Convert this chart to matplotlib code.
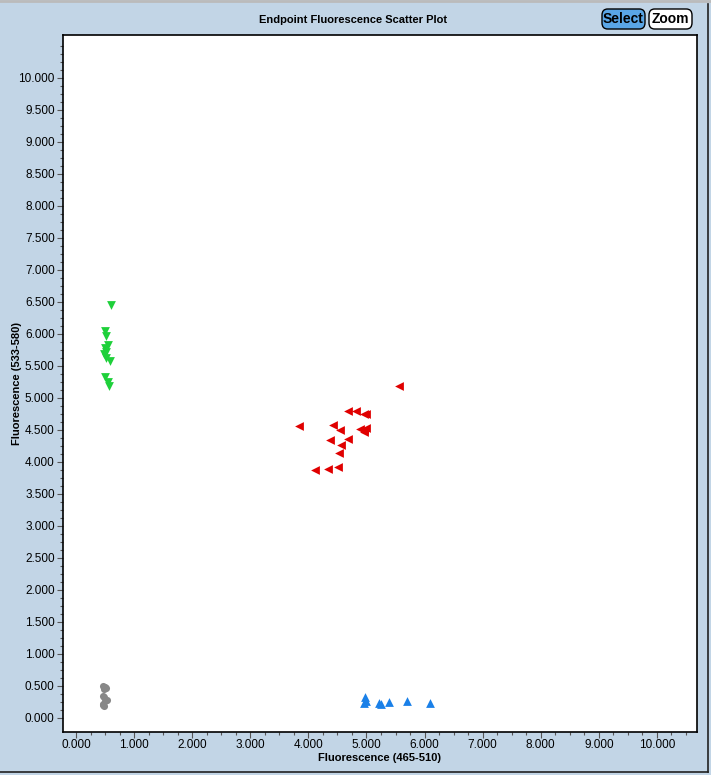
import numpy as np
import matplotlib
matplotlib.use("Agg")
import matplotlib.pyplot as plt
from matplotlib.lines import Line2D
from matplotlib.patches import FancyBboxPatch
from matplotlib.ticker import FixedLocator, FormatStrFormatter

### data (x = 465-510, y = 533-580)
ntc_x = [0.47, 0.50, 0.52, 0.48, 0.46, 0.49, 0.53, 0.50, 0.46, 0.48, 0.47]
ntc_y = [0.50, 0.48, 0.46, 0.45, 0.35, 0.32, 0.28, 0.26, 0.22, 0.18, 0.20]

green_x = [0.60, 0.50, 0.52, 0.55, 0.50, 0.52, 0.48, 0.52, 0.58, 0.50, 0.55, 0.57]
green_y = [6.45, 6.05, 5.97, 5.83, 5.78, 5.72, 5.68, 5.62, 5.57, 5.32, 5.25, 5.19]

red_x = [5.56, 4.69, 4.82, 4.95, 4.99, 3.84, 4.43, 4.54, 4.89, 4.95,
         5.00, 4.95, 4.37, 4.69, 4.57, 4.53, 4.11, 4.33, 4.51]
red_y = [5.19, 4.79, 4.79, 4.75, 4.75, 4.56, 4.58, 4.50, 4.51, 4.50,
         4.53, 4.46, 4.34, 4.36, 4.26, 4.14, 3.875, 3.89, 3.92]

blue_x = [4.97, 4.95, 5.00, 5.22, 5.25, 5.39, 5.69, 6.10]
blue_y = [0.33, 0.23, 0.26, 0.23, 0.21, 0.245, 0.27, 0.23]

xticks = np.arange(0, 10.5, 1.0)
yticks = np.arange(0, 10.25, 0.5)

bg = '#C2D5E6'
plt.rcParams.update({"font.family": ["Liberation Sans", "DejaVu Sans"]})

fig = plt.figure(figsize=(7.11, 7.75), dpi=100, facecolor=bg)
ax = fig.add_axes([63/711, 1-732/775, 634/711, 697/775])
ax.set_facecolor('white')

ax.scatter(ntc_x, ntc_y, marker='o', s=26, color='#888888', linewidths=0)
ax.scatter(green_x, green_y, marker='v', s=40, color='#1ED03A', linewidths=0)
ax.scatter(red_x, red_y, marker='<', s=40, color='#E00000', linewidths=0)
ax.scatter(blue_x, blue_y, marker='^', s=40, color='#1A80E8', linewidths=0)

ax.set_xlim(-0.224, 10.69)
ax.set_ylim(-0.22, 10.67)
ax.xaxis.set_major_locator(FixedLocator(xticks))
ax.xaxis.set_minor_locator(FixedLocator(np.arange(0, 10.6, 0.25)))
ax.yaxis.set_major_locator(FixedLocator(yticks))
ax.yaxis.set_minor_locator(FixedLocator(np.arange(0, 10.6, 0.125)))
ax.xaxis.set_major_formatter(FormatStrFormatter('%.3f'))
ax.yaxis.set_major_formatter(FormatStrFormatter('%.3f'))
ax.tick_params(which='major', length=4, width=0.8, color='#555555',
               labelsize=8.5, pad=2)
ax.tick_params(axis='x', which='major', pad=1)
ax.tick_params(which='minor', length=2, width=0.8, color='#555555')
for s in ax.spines.values():
    s.set_linewidth(1.2)
    s.set_color('black')

ax.set_xlabel('Fluorescence (465-510)', fontsize=8, fontweight='bold')
ax.set_ylabel('Fluorescence (533-580)', fontsize=8, fontweight='bold')
ax.xaxis.set_label_coords(0.5, -0.037)
ax.xaxis.label.set_va('center')
ax.yaxis.set_label_coords(-0.073, 0.5)
ax.yaxis.label.set_va('center')

fig.text(353/711, 1-20/775, 'Endpoint Fluorescence Scatter Plot',
         ha='center', va='center', fontsize=8, fontweight='bold')

### buttons
for label, x0, x1, fc in [('Select', 602, 645, '#5AA6E6'), ('Zoom', 649, 692, 'white')]:
    box = FancyBboxPatch((x0/711, 1-29/775), (x1-x0)/711, 20/775,
                         boxstyle='round,pad=0,rounding_size=0.008',
                         transform=fig.transFigure, facecolor=fc,
                         edgecolor='black', linewidth=1)
    fig.add_artist(box)
    fig.text((x0+x1)/2/711, 1-19/775, label, ha='center', va='center',
             fontsize=10, fontweight='bold')

### window borders
fig.add_artist(Line2D([0, 1], [1-1/775, 1-1/775], color='#BBBBBB', lw=2,
                      transform=fig.transFigure))
fig.add_artist(Line2D([0, 708/711], [1-772/775, 1-772/775], color='#222222', lw=1.2,
                      transform=fig.transFigure))
fig.add_artist(Line2D([708/711, 708/711], [1-772/775, 1-4/775], color='#222222', lw=1.2,
                      transform=fig.transFigure))

fig.savefig('out.png', dpi=100, facecolor=bg)
